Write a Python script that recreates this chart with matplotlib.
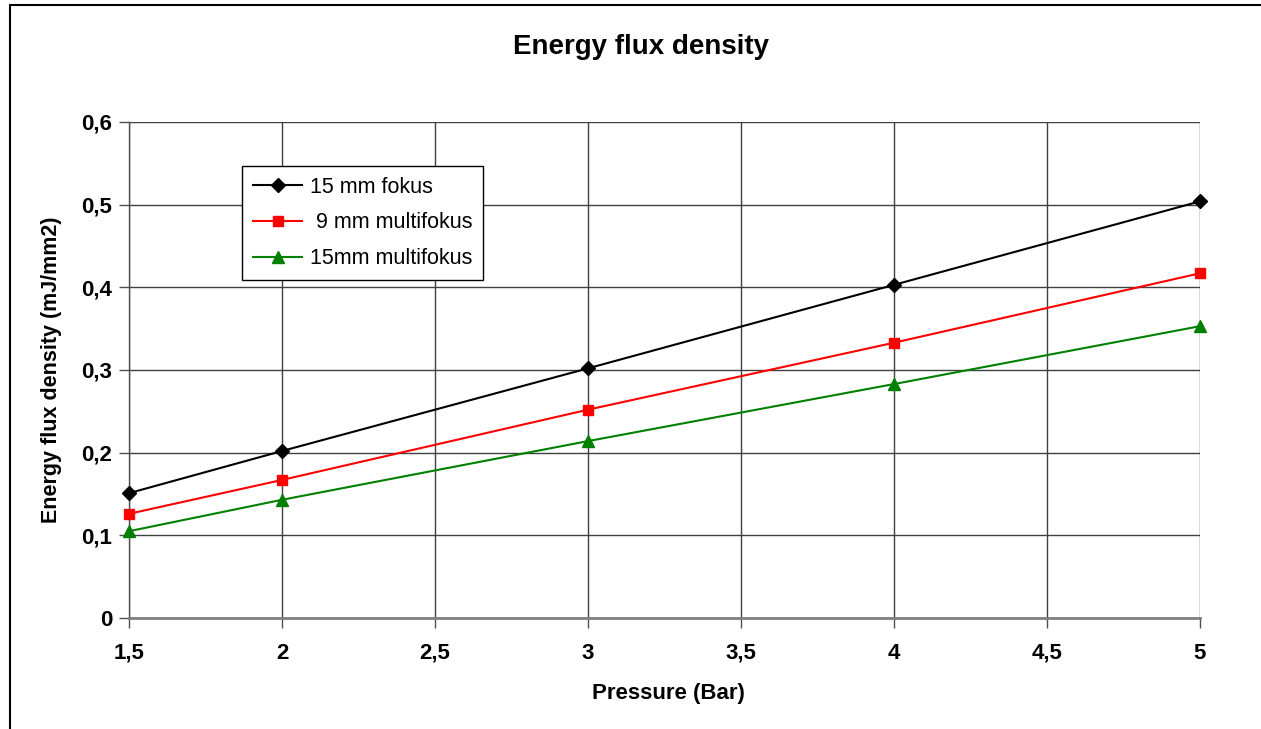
import matplotlib.pyplot as plt
from matplotlib.patches import Rectangle
from matplotlib.ticker import FuncFormatter, MultipleLocator

plt.rcParams['font.family'] = ['Liberation Sans', 'DejaVu Sans']

# data
pressure = [1.5, 2, 3, 4, 5]
fokus_15mm = [0.151, 0.202, 0.302, 0.403, 0.504]
multifokus_9mm = [0.126, 0.167, 0.252, 0.333, 0.417]
multifokus_15mm = [0.105, 0.143, 0.214, 0.283, 0.353]

series_labels = ['15 mm fokus', ' 9 mm multifokus', '15mm multifokus']

W, H = 1261, 729
fig = plt.figure(figsize=(W / 100, H / 100), dpi=100)
fig.patch.set_facecolor('white')

# outer chart border (only top and left visible in the reference)
fig.add_artist(Rectangle((10 / W, -0.05), 1.2, 1.05 - 5 / H, transform=fig.transFigure,
                         fill=False, edgecolor='black', linewidth=1.5))

ax = fig.add_axes([129 / W, 1 - 618 / H, (1200 - 129) / W, (618 - 122) / H])

ax.plot(pressure, fokus_15mm, color='black', lw=1.5, marker='D', ms=7,
        clip_on=False, zorder=3, label=series_labels[0])
ax.plot(pressure, multifokus_9mm, color='#ff0000', lw=1.5, marker='s', ms=7,
        clip_on=False, zorder=3, label=series_labels[1])
ax.plot(pressure, multifokus_15mm, color='#008000', lw=1.5, marker='^', ms=8.5,
        clip_on=False, zorder=3, label=series_labels[2])

ax.set_xlim(1.5, 5)
ax.set_ylim(0, 0.6)
ax.xaxis.set_major_locator(MultipleLocator(0.5))
ax.yaxis.set_major_locator(MultipleLocator(0.1))

def comma_fmt(v, pos):
    s = ('%.1f' % v).rstrip('0').rstrip('.')
    return s.replace('.', ',')

ax.xaxis.set_major_formatter(FuncFormatter(comma_fmt))
ax.yaxis.set_major_formatter(FuncFormatter(comma_fmt))

ax.grid(True, color='#404040', linewidth=1)
ax.set_axisbelow(True)
for side in ['top', 'right']:
    ax.spines[side].set_visible(False)
ax.spines['bottom'].set_color('#808080')
ax.spines['bottom'].set_linewidth(2)
ax.spines['left'].set_color('#505050')
ax.spines['left'].set_linewidth(1)

ax.tick_params(axis='both', direction='out', length=7, width=1, color='#505050',
               labelsize=16)
ax.tick_params(axis='x', pad=11)
ax.tick_params(axis='y', pad=5)
for lbl in ax.get_xticklabels() + ax.get_yticklabels():
    lbl.set_fontweight('bold')

ax.set_xlabel('Pressure (Bar)', fontsize=16, fontweight='bold')
ax.set_ylabel('Energy flux density (mJ/mm2)', fontsize=15.5, fontweight='bold', labelpad=14)
ax.xaxis.set_label_coords((668 - 129) / (1200 - 129), -0.131)

fig.text(641 / W, 1 - 47 / H, 'Energy flux density', ha='center', va='center',
         fontsize=20, fontweight='bold')

leg = ax.legend(loc='upper left', bbox_to_anchor=((242 - 129) / (1200 - 129), (618 - 166) / (618 - 122)),
                fontsize=15.5, frameon=True, fancybox=False, handlelength=2.3,
                borderpad=0.5, labelspacing=0.68, handletextpad=0.35, borderaxespad=0)
leg.get_frame().set_edgecolor('black')
leg.get_frame().set_linewidth(1)
leg.get_frame().set_alpha(1)

fig.savefig('out.png', dpi=100)
